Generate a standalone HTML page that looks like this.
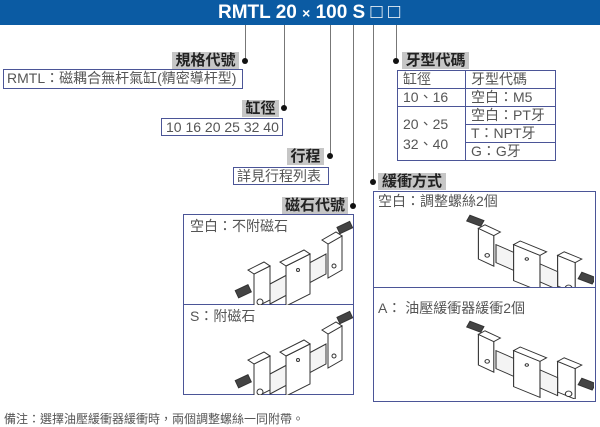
<!DOCTYPE html>
<html><head><meta charset="utf-8"><style>
body{margin:0;width:600px;height:426px;background:#fff;position:relative;overflow:hidden;font-family:"Liberation Sans","Noto Sans CJK TC",sans-serif;}
.a{position:absolute}
.hdr{left:0;top:0;width:600px;height:25px;background:#0b5ba3;color:#fff;font-weight:bold;font-size:19px;line-height:25px;}
.vl{position:absolute;width:1px;background:#777;}
.dot{position:absolute;width:6px;height:6px;border-radius:3px;background:#111;}
.lab{position:absolute;background:#c6c6c6;font-weight:bold;font-size:15px;color:#222;line-height:17px;height:17px;text-align:center;white-space:nowrap;overflow:hidden}
.box{position:absolute;border:1px solid #4b5597;box-sizing:border-box;color:#555;font-size:14px;line-height:17px;padding-left:3px;white-space:nowrap}
td{border:1px solid #4b5597;padding:0 0 0 5px;color:#555;font-size:14px;height:17px;line-height:17px;white-space:nowrap}
</style></head><body>
<div class="a hdr"><span style="position:absolute;left:218px">RMTL 20 <span style="font-size:14px">×</span> 100 S <span style="font-weight:normal;font-size:20px">□ □</span></span></div>
<div class="vl" style="left:245px;top:25px;height:36px"></div>
<div class="vl" style="left:284px;top:25px;height:84px"></div>
<div class="vl" style="left:330px;top:25px;height:131px"></div>
<div class="vl" style="left:353px;top:25px;height:181px"></div>
<div class="vl" style="left:373px;top:25px;height:157px"></div>
<div class="vl" style="left:396px;top:25px;height:36px"></div>
<div class="dot" style="left:242px;top:58px"></div>
<div class="dot" style="left:281px;top:105px"></div>
<div class="dot" style="left:327px;top:153px"></div>
<div class="dot" style="left:350px;top:203px"></div>
<div class="dot" style="left:370px;top:179px"></div>
<div class="dot" style="left:393px;top:58px"></div>

<div class="lab" style="left:172px;top:52px;width:67px">規格代號</div>
<div class="box" style="left:3px;top:69px;width:240px;height:20px">RMTL：磁耦合無杆氣缸(精密導杆型)</div>
<div class="lab" style="left:242px;top:100px;width:37px">缸徑</div>
<div class="box" style="left:161px;top:118px;width:122px;height:18px;padding-left:4px">10 16 20 25 32 40</div>
<div class="lab" style="left:287px;top:148px;width:37px">行程</div>
<div class="box" style="left:233px;top:167px;width:96px;height:18px">詳見行程列表</div>
<div class="lab" style="left:282px;top:197px;width:66px">磁石代號</div>
<div class="lab" style="left:378px;top:173px;width:68px">緩衝方式</div>
<div class="lab" style="left:402px;top:52px;width:67px">牙型代碼</div>

<table class="a" style="left:397px;top:70px;width:159px;border-collapse:collapse">
<tr><td style="width:62px">缸徑</td><td>牙型代碼</td></tr>
<tr><td>10、16</td><td>空白：M5</td></tr>
<tr><td rowspan="3" style="line-height:20px">20、25<br>32、40</td><td>空白：PT牙</td></tr>
<tr><td>T：NPT牙</td></tr>
<tr><td>G：G牙</td></tr>
</table>

<svg width="0" height="0" style="position:absolute"><defs>
<g id="cyl" fill="#fff" stroke="#333" stroke-width="1">
<rect x="-10" y="26" width="14" height="8" fill="#444" transform="rotate(-25 0 30)"/>
<polygon points="8,14 24,6 24,40 8,48"/>
<polygon points="8,14 2,10 18,2 24,6"/>
<polygon points="24,24 80,-6 80,14 24,44" fill="#f4f4f4"/>
<polygon points="40,6 64,-6 64,34 40,46"/>
<polygon points="40,6 34,2 58,-10 64,-6"/>
<polygon points="82,-16 96,-24 96,10 82,18"/>
<polygon points="82,-16 76,-20 90,-28 96,-24"/>
<rect x="92" y="-36" width="14" height="7" fill="#444" transform="rotate(-25 99 -32)"/>
<circle cx="14" cy="42" r="3"/><circle cx="88" cy="6" r="2"/><circle cx="52" cy="10" r="1.5"/>
</g></defs></svg>

<div class="box" style="left:183px;top:214px;width:171px;height:181px;padding:0">
<div style="position:absolute;left:6px;top:3px">空白：不附磁石</div>
<div style="position:absolute;left:0;top:89px;width:169px;border-top:1px solid #4b5597"></div>
<div style="position:absolute;left:6px;top:93px">S：附磁石</div>
<svg class="a" style="left:50px;top:5px" width="120" height="85"><use href="#cyl" x="12" y="40"/></svg>
<svg class="a" style="left:50px;top:95px" width="120" height="85"><use href="#cyl" x="12" y="40"/></svg>
</div>

<div class="box" style="left:373px;top:191px;width:223px;height:211px;padding:0">
<div style="position:absolute;left:4px;top:1px">空白：調整螺絲2個</div>
<div style="position:absolute;left:0;top:95px;width:221px;border-top:1px solid #4b5597"></div>
<div style="position:absolute;left:4px;top:108px">A：&nbsp;油壓緩衝器緩衝2個</div>
<svg class="a" style="left:80px;top:20px" width="140" height="75"><use href="#cyl" transform="translate(130,38) scale(-1.1,0.9)"/></svg>
<svg class="a" style="left:80px;top:122px" width="140" height="85"><use href="#cyl" transform="translate(130,42) scale(-1.1,0.9)"/></svg>
</div>

<div class="a" style="left:4px;top:410px;font-size:12px;color:#555">備注：選擇油壓緩衝器緩衝時，兩個調整螺絲一同附帶。</div>
</body></html>
